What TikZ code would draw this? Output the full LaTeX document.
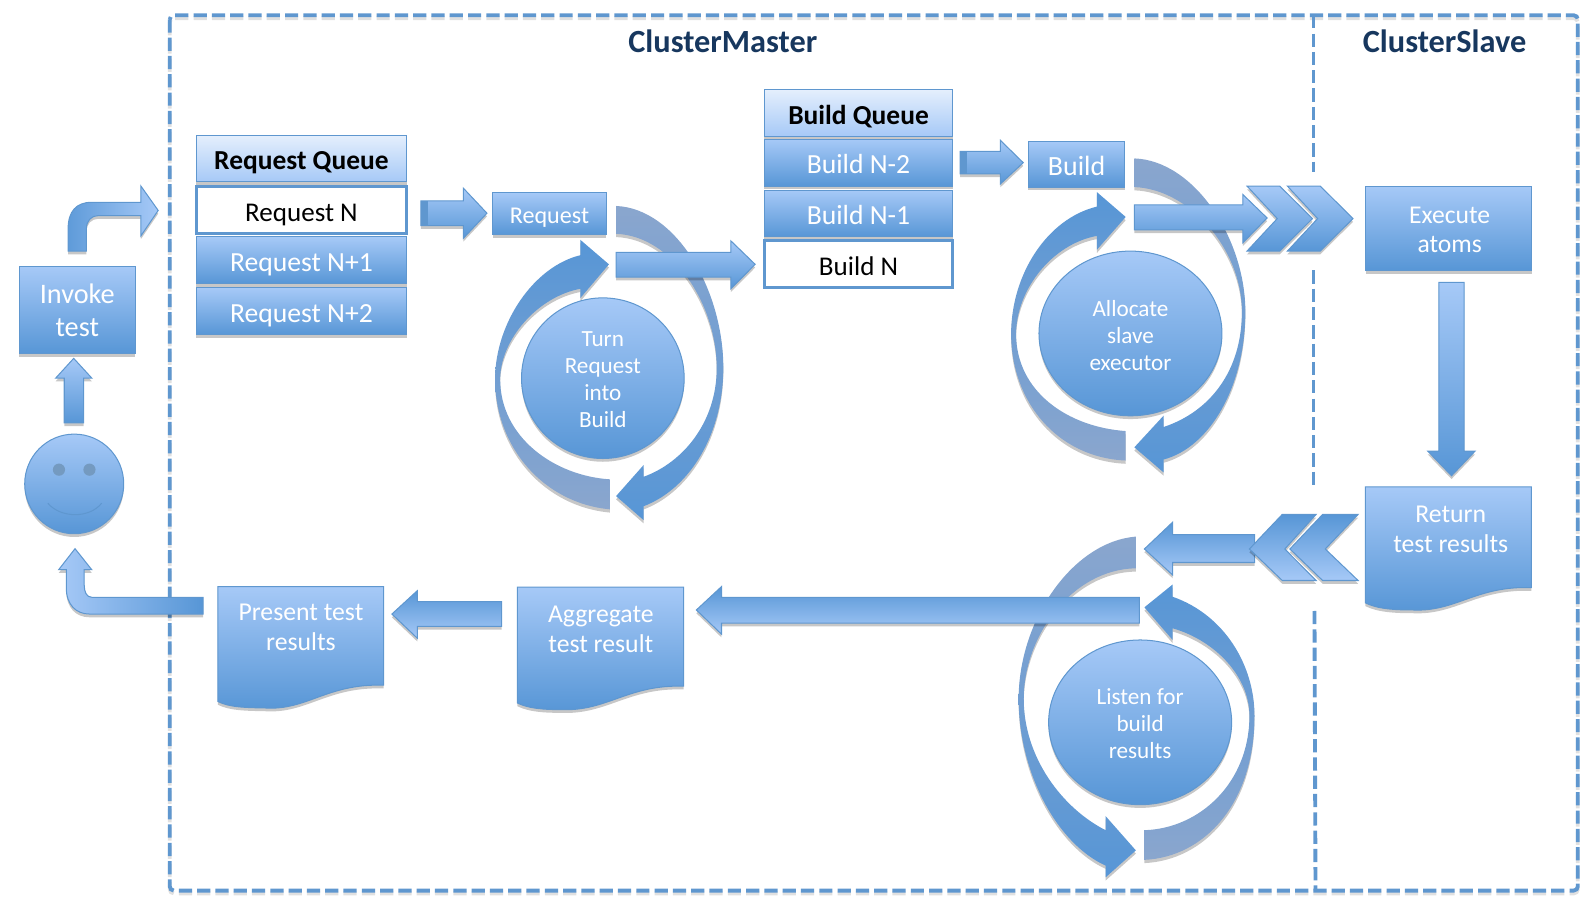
\documentclass[tikz,border=0pt]{standalone}
\usepackage{fontspec}
\setmainfont{Carlito}
\usetikzlibrary{shadows}
\definecolor{lt}{HTML}{A6C9F7}
\definecolor{md}{HTML}{7FADE6}
\definecolor{dk}{HTML}{5796D6}
\definecolor{edge}{HTML}{5F97CF}
\definecolor{faded}{HTML}{8AA6CE}
\definecolor{navy}{HTML}{17375E}
\tikzset{
  shad/.style={drop shadow={shadow xshift=0pt,shadow yshift=-1.6pt,opacity=.22,fill=black}},
  blk/.style={top color=lt,bottom color=dk,draw=edge,line width=.5pt,shad},
  blkflip/.style={top color=dk,bottom color=lt,draw=edge,line width=.5pt,shad},
  arcdown/.style={top color=faded,middle color=#1,bottom color=dk,draw=none,shad},
  arcup/.style={top color=dk,middle color=#1,bottom color=faded,draw=none,shad},
  lbl/.style={text=white,align=center,inner sep=0pt,font=\fontsize{12.65}{14.8}\selectfont},
  lblc/.style={text=white,align=center,inner sep=0pt,font=\fontsize{11.4}{13.4}\selectfont},
  box/.style={blk,text=white,align=center,inner sep=0pt,outer sep=0pt,font=\fontsize{12.4}{15}\selectfont},
  bar/.style={box,minimum height=23pt,text height=11pt,text depth=0pt,font=\fontsize{13.6}{15}\selectfont},
  hdr/.style={bar,top color=white!70!lt,bottom color=lt,text=black,font=\fontsize{13.5}{15}\selectfont\bfseries},
  whitebar/.style={text=black,align=center,inner sep=0pt,outer sep=0pt,minimum height=23pt,text height=11pt,text depth=0pt,fill=white,draw=edge,line width=1.4pt,font=\fontsize{13.3}{15}\selectfont},
  title/.style={text=navy,font=\fontsize{15.9}{18}\selectfont\bfseries,inner sep=0pt},
  framel/.style={draw=edge,line width=1.9pt,dash pattern=on 6.5pt off 2.5pt},
}
\begin{document}
\begin{tikzpicture}[x=.5pt,y=-.5pt]
\useasboundingbox (0,0) rectangle (1566,891);
% frame and divider
\draw[framel,draw=black,opacity=.12,yshift=-1.4pt,rounded corners=2pt] (167,15) rectangle (1552,876);
\draw[framel,rounded corners=2pt] (167,15) rectangle (1552,876);
\draw[framel] (1292,15) -- (1292,169);
\draw[framel] (1292,266) -- (1292,478);
\draw[framel] (1293,601) -- (1294,876);
\node[title] (master) at (711,41) {ClusterMaster};
\node[title] (slave) at (1421,41) {ClusterSlave};

% --- Turn Request into Build cycle
\path[arcdown=faded!70!dk] (606,202.6) .. controls (665,205) and (711.5,285) .. (711.5,362)
  .. controls (711.5,425) and (680,480) .. (633,498) -- (633,511.5) -- (606,488) -- (633,457.5) -- (633,469)
  .. controls (672,455) and (705,415) .. (705,362) .. controls (705,300) and (662,232) .. (606,230) -- cycle;
\path[arcup=dk!60!faded] (571,251) -- (571,236) -- (599,260) -- (571,293) -- (571,284)
  .. controls (528,292) and (492,335) .. (492,373) .. controls (492,430) and (545,468) .. (600,471.5)
  -- (600,501) .. controls (535,495) and (487,440) .. (487,373) .. controls (487,318) and (525,262) .. (571,251) -- cycle;
% --- Allocate cycle
\path[arcdown=faded!70!dk] (1115.8,155.8) .. controls (1175,158) and (1225,235) .. (1225,306.5)
  .. controls (1225,380) and (1190,440) .. (1144.6,452) -- (1144.6,464.7) -- (1115.8,440) -- (1144.6,408.8) -- (1144.6,420)
  .. controls (1190,405) and (1221.6,365) .. (1221.6,306.5) .. controls (1221.6,245) and (1170,186) .. (1115.8,184) -- cycle;
\path[arcup=dk!60!faded] (1079,203.2) -- (1079,189) -- (1107.3,213.4) -- (1079,245.6) -- (1079,232)
  .. controls (1035,240) and (999.5,285) .. (999.5,328.5) .. controls (999.5,385) and (1050,420) .. (1107.3,424)
  -- (1107.3,453) .. controls (1040,450) and (994.6,395) .. (994.6,328.5) .. controls (994.6,270) and (1030,215) .. (1079,203.2) -- cycle;
% --- Listen cycle
\path[arcdown=faded!70!dk] (1117.3,527.8) .. controls (1055,533) and (1002,610) .. (1002,687.5)
  .. controls (1002,760) and (1040,830) .. (1087.5,851.4) -- (1087.5,863) -- (1117.3,836.5) -- (1087.5,802.7) -- (1087.5,816.6)
  .. controls (1045,795) and (1007,745) .. (1007,687.5) .. controls (1007,625) and (1055,560) .. (1117.3,559) -- cycle;
\path[arcup=dk!60!faded] (1153.5,587) -- (1153.5,574.9) -- (1125.7,597.4) -- (1153.5,629.5) -- (1153.5,618)
  .. controls (1195,630) and (1229,665) .. (1229,704) .. controls (1229,770) and (1180,815) .. (1125.7,816.6)
  -- (1125.7,845.8) .. controls (1185,843) and (1234,790) .. (1234,704) .. controls (1234,655) and (1205,605) .. (1153.5,587) -- cycle;

% discs
\path[blk] (593,372) ellipse [x radius=80,y radius=79];
\node[lblc] (turntxt) at (593,373.5) {Turn\\Request\\into\\Build};
\path[blk] (1112,328) ellipse [x radius=90,y radius=81];
\node[lblc] (alloc) at (1112,330) {Allocate\\slave\\executor};
\path[blk] (1121.5,710.5) ellipse [x radius=90,y radius=81];
\node[lblc] (listen) at (1121.5,712) {Listen for\\build\\results};

% queues
\node[hdr,minimum width=103.5pt] (rq) at (296.5,156) {Request Queue};
\node[whitebar,minimum width=103.5pt] (r0) at (296.5,206.5) {Request N};
\node[bar,minimum width=103.5pt] (r1) at (296.5,256) {Request N+1};
\node[bar,minimum width=103.5pt] (r2) at (296.5,306) {Request N+2};
\node[hdr,minimum width=92.5pt] (bq) at (844.5,111) {Build Queue};
\node[bar,minimum width=92.5pt] (b2) at (844.5,160) {Build N-2};
\node[bar,minimum width=92.5pt] (b1) at (844.5,210) {Build N-1};
\node[whitebar,minimum width=92.5pt] (b0) at (844.5,259.5) {Build N};

% process boxes
\node[box,minimum width=57pt,minimum height=43pt,font=\fontsize{13.9}{16}\selectfont] (invoke) at (76,305) {Invoke\\test};
\node[box,minimum width=56pt,minimum height=20.5pt,text height=9.6pt,text depth=0pt,font=\fontsize{11.85}{13}\selectfont] (request) at (540.5,210) {Request};
\node[box,minimum width=47.5pt,minimum height=22.5pt,text height=11.5pt,text depth=0pt,font=\fontsize{13.7}{15}\selectfont] (build) at (1059,161.5) {Build};
\node[box,minimum width=81.5pt,minimum height=41.5pt,font=\fontsize{12.6}{14.6}\selectfont] (exec) at (1425,224.5) {};
\node[lbl,font=\fontsize{12.6}{14.6}\selectfont] (exectxt) at (1426,226) {Execute\\atoms};

% documents
\path[blk] (1343,478.8) -- (1506.3,478.8) -- (1506.3,578) .. controls (1452,576) and (1432,602) .. (1390,600) .. controls (1372,600) and (1355,599) .. (1343,593) -- cycle;
\node[lbl] (ret) at (1427,520.5) {Return\\test results};
\path[blk] (509,577.6) -- (672.5,577.6) -- (672.5,675) .. controls (618,673) and (597,700) .. (552,698) .. controls (535,698) and (520,697) .. (509,691.5) -- cycle;
\node[lbl] (agg) at (591,619) {Aggregate\\test result};
\path[blk] (214.3,577) -- (377.4,577) -- (377.4,674) .. controls (322,672) and (302,699) .. (261,696.4) .. controls (243,696) and (226,696) .. (214.3,690) -- cycle;
\node[lbl] (pres) at (296,617.5) {Present test\\results};

% smiley
\path[blk] (73,476) circle [x radius=48.7,y radius=49];
\fill[edge!85!black!80] (58,462) circle [radius=6];
\fill[edge!85!black!80] (88,462) circle [radius=6];
\draw[edge,line width=.5pt] (47,495) .. controls (60,510) and (88,510) .. (100,495);

% block arrows
\path[blk] (63.2,416) -- (63.2,372) -- (54.7,372) -- (72.5,352.5) -- (90.4,372) -- (82.3,372) -- (82.3,416) -- cycle;
\path[draw=edge,line width=.5pt,left color=dk!90!lt,right color=lt,shad] (67,247) -- (67,225) .. controls (67,208) and (75,199) .. (90,199) -- (138.6,199) -- (138.6,183) -- (155.6,207) -- (138.6,232) -- (138.6,212) -- (97,212) .. controls (90,212) and (85,217) .. (85,225) -- (85,247) -- cycle;
\path[draw=edge,line width=.5pt,left color=lt,right color=dk,shad] (199.8,587.5) -- (90.3,587.5) .. controls (85,587.5) and (82.8,582) .. (82.8,575) -- (82.8,560.4) -- (90.3,560.4) -- (73.8,539.7) -- (57.7,560.4) -- (65.2,560.4) -- (65.2,578) .. controls (65.2,595) and (75,604) .. (88,604) -- (199.8,604) -- cycle;
\path[blk] (414,197.6) -- (455.7,197.6) -- (455.7,185) -- (479,209.7) -- (455.7,234.5) -- (455.7,222) -- (414,222) -- cycle;
\fill[edge] (414,197.6) rectangle (421,222);
\path[blk] (606,248.3) -- (719,248.3) -- (719,237) -- (742.8,260) -- (719,284) -- (719,272.7) -- (606,272.7) -- cycle;
\path[blk] (944.4,149) -- (984,149) -- (984,138) -- (1006.5,160) -- (984,181) -- (984,171) -- (944.4,171) -- cycle;
\fill[edge] (944.4,149) rectangle (951,171);
\path[blk] (1226.6,183) -- (1258.8,183) -- (1291,215) -- (1258.8,247) -- (1226.6,247) -- (1256.4,215) -- cycle;
\path[blk] (1266.3,183) -- (1298.6,183) -- (1330.9,215) -- (1298.6,247) -- (1266.3,247) -- (1296.1,215) -- cycle;
\path[blk] (1115.8,201.5) -- (1222.6,201.5) -- (1222.6,191.4) -- (1246.4,214.4) -- (1222.6,238.8) -- (1222.6,226) -- (1115.8,226) -- cycle;
\path[blk] (1415.4,277.7) -- (1440.2,277.7) -- (1440.2,443.7) -- (1451,443.7) -- (1427.8,468) -- (1404.4,443.7) -- (1415.4,443.7) -- cycle;
\path[blkflip] (1234,525.9) -- (1153.5,525.9) -- (1153.5,513.6) -- (1125.7,540) -- (1153.5,565.6) -- (1153.5,553.3) -- (1234,553.3) -- cycle;
\path[blkflip] (1335.9,506) -- (1301,506) -- (1268.8,540) -- (1301,571) -- (1335.9,571) -- (1303.6,540) -- cycle;
\path[blkflip] (1294.6,506) -- (1261.3,506) -- (1229,540) -- (1261.3,571) -- (1294.6,571) -- (1263.8,540) -- cycle;
\path[blkflip] (1120.7,587.5) -- (709.7,587.5) -- (709.7,577) -- (685,600) -- (709.7,623.8) -- (709.7,613) -- (1120.7,613) -- cycle;
\path[blkflip] (493.4,591.8) -- (410.5,591.8) -- (410.5,581) -- (385.5,604) -- (410.5,627.8) -- (410.5,616.2) -- (493.4,616.2) -- cycle;
\end{tikzpicture}
\end{document}
